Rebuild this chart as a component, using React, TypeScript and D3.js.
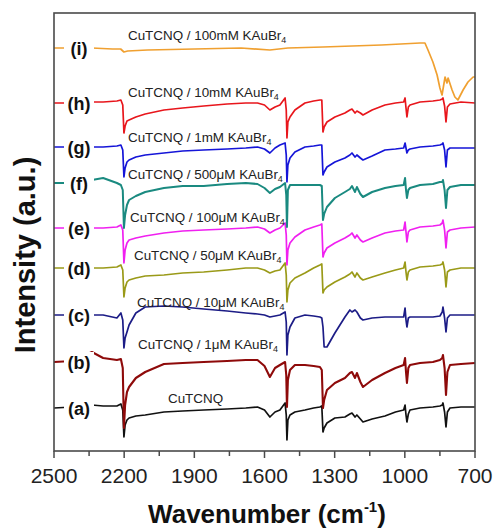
import React from "react";
import * as d3 from "d3";

// Wavenumber grid (cm^-1) shared by spectra (a)–(h)
const wavenumbers = [2500,2420,2338,2290,2231,2214,2206,2201,2196,2188,2179,2150,2110,2030,1950,1860,1760,1680,1630,1600,1577,1555,1534,1512,1507,1504,1500,1491,1470,1427,1390,1363,1355,1350,1345,1333,1299,1256,1235,1226,1213,1205,1190,1179,1140,1085,1040,1005,999,995,991,985,978,935,880,850,840,837,830,824,818,807,760,700];

// Stacked intensities (a.u., already offset)
const specA = [43,44,46,45,45,47,41,14,26,31,33,35,36,39,40,41,42,43,44,41,34,39,41,48,36,11,31,36,39,41,43,44,45,19,23,28,33,34,37,38,34,36,32,29,32,35,39,41,46,36,29,37,41,43,44,45,46,48,39,24,39,43,44,44];
const specB = [89,90,99,93,91,92,83,23,46,59,64,73,79,87,88,89,90,91,91,85,74,83,86,89,76,44,71,81,86,86,85,84,81,43,51,61,68,73,78,79,73,78,69,64,71,78,83,86,93,79,68,83,86,88,89,91,93,96,83,56,79,86,87,88];
const specC = [136,136,136,136,133,138,131,103,113,119,126,138,144,145,144,142,140,138,137,136,134,135,136,139,129,96,116,124,133,136,135,134,133,124,104,104,118,134,141,139,141,139,133,131,133,134,134,134,143,131,124,133,134,134,134,135,139,144,133,119,133,136,136,136];
const specD = [183,183,183,183,184,186,181,154,163,169,171,173,175,176,178,179,181,183,183,181,178,180,181,188,176,149,161,168,173,178,183,186,187,158,161,164,169,174,177,179,174,178,173,171,174,178,181,183,189,179,171,179,181,184,185,186,187,189,181,164,179,181,183,183];
const specE = [223,223,223,223,224,226,221,188,201,208,211,213,215,218,220,221,222,223,224,222,218,221,223,228,216,186,201,208,214,221,224,226,227,194,198,203,208,213,216,218,213,216,211,209,213,218,220,221,229,219,209,219,221,224,225,226,228,231,221,203,219,221,223,224];
const specF = [268,268,271,273,268,266,261,223,236,246,251,255,259,263,265,265,267,268,267,263,258,262,264,268,256,224,261,266,266,266,266,266,265,231,237,244,253,259,262,265,259,264,257,254,259,263,265,266,273,261,253,261,263,266,267,269,269,271,261,243,261,264,266,266];
const specG = [304,304,304,304,305,306,301,274,283,289,291,294,296,298,300,301,302,303,304,302,298,303,306,308,296,269,286,293,299,304,305,306,306,276,279,284,289,293,296,298,294,296,293,291,295,301,302,303,308,303,298,301,302,304,305,306,307,308,301,284,301,303,303,303];
const specH = [348,348,349,349,350,351,346,318,325,330,331,334,337,341,343,345,347,348,348,346,341,344,346,353,341,313,329,334,341,348,350,351,351,319,324,329,334,338,341,342,338,340,338,336,341,346,348,349,353,343,334,344,346,349,350,351,352,353,345,329,344,347,349,348];

// Spectrum (i) has its own grid
const wavenumbersI = [2500,2338,2250,2215,2201,2185,2100,1900,1700,1577,1500,1350,1100,935,914,901,880,862,850,841,828,820,815,798,786,773,751,730,708,700];
const specI = [403,403,402,402,399,400,401,402,403,401,403,404,406,408,408,401,389,376,363,356,374,368,373,361,354,351,361,369,374,374];

const seriesKeys = ["(a)","(b)","(c)","(d)","(e)","(f)","(g)","(h)","(i)"];
const seriesColors = ["#111111","#8e0a0a","#1c1c86","#9a9a18","#f020f0","#1a8a80","#1515d8","#e8161c","#f0a030"];
const seriesWidths = [1.7, 2.1, 1.7, 1.7, 1.7, 2.0, 1.7, 1.7, 1.7];
const seriesNames = [
  ["CuTCNQ", ""],
  ["CuTCNQ / 1μM KAuBr", "4"],
  ["CuTCNQ / 10μM KAuBr", "4"],
  ["CuTCNQ / 50μM KAuBr", "4"],
  ["CuTCNQ / 100μM KAuBr", "4"],
  ["CuTCNQ / 500μM KAuBr", "4"],
  ["CuTCNQ / 1mM KAuBr", "4"],
  ["CuTCNQ / 10mM KAuBr", "4"],
  ["CuTCNQ / 100mM KAuBr", "4"],
];
const xTicks = [2500, 2200, 1900, 1600, 1300, 1000, 700];
const xMinorTicks = [2350, 2050, 1750, 1450, 1150, 850];

export default function App() {
  const W = 495, H = 530;
  const left = 54, right = 475, top = 13, bottom = 451;
  const x = d3.scaleLinear().domain([2500, 700]).range([left, right]);
  const y = d3.scaleLinear().domain([0, 440]).range([bottom, 11]);

  const all = [specA, specB, specC, specD, specE, specF, specG, specH];
  const data = all.map((s) => s.map((v, i) => [wavenumbers[i], v] as [number, number]));
  data.push(specI.map((v, i) => [wavenumbersI[i], v] as [number, number]));

  const line = d3.line<[number, number]>().x((d) => x(d[0])).y((d) => y(d[1]));

  const labelPos = [
    [168, 403], [138, 349], [137, 307], [134, 260], [130, 222], [128, 179], [128, 142], [128, 97], [128, 40],
  ];

  return (
    <svg width={W} height={H} style={{ position: "absolute", left: 0, top: 0, background: "#fff" }}
      fontFamily="'Liberation Sans', Arial, sans-serif">
      <rect x={0} y={0} width={W} height={H} fill="#fff" />
      {data.map((d, i) => (
        <path key={i} d={line(d) || ""} fill="none" stroke={seriesColors[i]} strokeWidth={seriesWidths[i]} strokeLinejoin="round" />
      ))}
      {data.map((d, i) => {
        const yy = y(d[0][1]);
        return (
          <g key={"l" + i}>
            <rect x={64} y={yy - 10} width={30} height={20} fill="#fff" />
            <text x={79} y={yy + 6.5} textAnchor="middle" fontSize={18} fontWeight="bold" fill="#111">{seriesKeys[i]}</text>
          </g>
        );
      })}
      {seriesNames.map((n, i) => (
        <text key={"n" + i} x={labelPos[i][0]} y={labelPos[i][1]} fontSize={13.4} fill="#222">
          {n[0]}
          {n[1] && <tspan fontSize={9} dy={3}>{n[1]}</tspan>}
        </text>
      ))}
      <rect x={left} y={top} width={right - left} height={bottom - top} fill="none" stroke="#4a4a4a" strokeWidth={1.6} />
      {xTicks.map((t) => (
        <g key={"t" + t}>
          <line x1={x(t)} x2={x(t)} y1={bottom} y2={bottom + 7} stroke="#4a4a4a" strokeWidth={1.5} />
          <text x={x(t)} y={483} textAnchor="middle" fontSize={21} fill="#222">{t}</text>
        </g>
      ))}
      {xMinorTicks.map((t) => (
        <line key={"m" + t} x1={x(t)} x2={x(t)} y1={bottom} y2={bottom + 5} stroke="#4a4a4a" strokeWidth={1.5} />
      ))}
      <text x={267} y={523} textAnchor="middle" fontSize={26} fontWeight="bold" fill="#111">
        Wavenumber (cm<tspan fontSize={15} dy={-11}>-1</tspan><tspan dy={11}>)</tspan>
      </text>
      <text transform="translate(35,255) rotate(-90)" textAnchor="middle" fontSize={29} fontWeight="bold" fill="#111">
        Intensity (a.u.)
      </text>
    </svg>
  );
}
